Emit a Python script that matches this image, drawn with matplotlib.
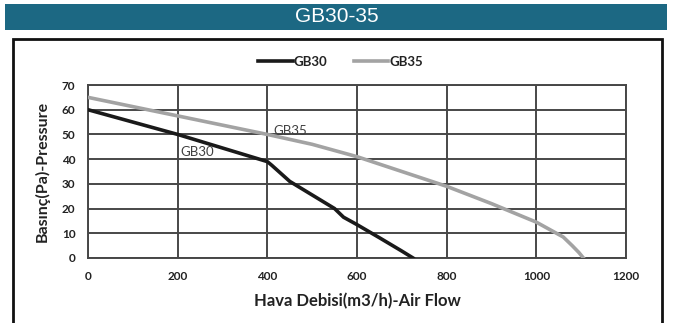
import matplotlib.pyplot as plt
from matplotlib.patches import Rectangle

# Fan performance curves (air flow m3/h vs static pressure Pa)
gb30_flow = [0, 200, 400, 410, 450, 500, 550, 570, 600, 650, 700, 725]
gb30_pres = [60, 50, 39, 37.5, 31, 25.5, 20, 16.5, 13.5, 8.2, 2.8, 0]

gb35_flow = [0, 200, 400, 500, 600, 700, 800, 900, 1000, 1040, 1060, 1080, 1095, 1105]
gb35_pres = [65, 57.5, 50, 46, 41, 35, 29, 22, 14.5, 10.5, 8.5, 5, 2.2, 0]

x_ticks = [0, 200, 400, 600, 800, 1000, 1200]
y_ticks = [0, 10, 20, 30, 40, 50, 60, 70]

title = "GB30-35"
x_label = "Hava Debisi(m3/h)-Air Flow"
y_label = "Basınç(Pa)-Pressure"

fig = plt.figure(figsize=(6.76, 3.23), dpi=100)

# header bar and outer frame, kept behind the axes
fig.patches.append(Rectangle((5 / 676, 1 - 30 / 323), 662 / 676, 26 / 323,
                             transform=fig.transFigure, facecolor="#1c6883",
                             edgecolor="none", zorder=-2))
fig.text(337 / 676, 1 - 17 / 323, title, color="white", fontsize=15,
         family="Liberation Sans", ha="center", va="center")
fig.patches.append(Rectangle((13 / 676, -0.05), 649 / 676, 1.05 - 39 / 323,
                             transform=fig.transFigure, facecolor="white",
                             edgecolor="#111111", linewidth=2, zorder=-2))

ax = fig.add_axes([88 / 676, 1 - 258 / 323, 538 / 676, 173 / 323])
ax.patch.set_alpha(0)
ax.plot(gb30_flow, gb30_pres, color="#1a1a1a", lw=2.6, label="GB30", zorder=3)
ax.plot(gb35_flow, gb35_pres, color="#a3a3a3", lw=2.6, label="GB35", zorder=3)

ax.set_xlim(0, 1200)
ax.set_ylim(0, 70)
ax.set_xticks(x_ticks)
ax.set_yticks(y_ticks)
ax.grid(True, color="#474747", lw=1.4)
ax.set_axisbelow(True)
for s in ax.spines.values():
    s.set_color("#474747")
    s.set_linewidth(1.4)
ax.tick_params(length=0, pad=9, labelsize=8.5, labelcolor="#222222")
for lab in ax.get_xticklabels() + ax.get_yticklabels():
    lab.set_family("Lato")
    lab.set_fontweight("bold")

ax.set_xlabel(x_label, family="Lato", fontweight="bold", fontsize=12,
              color="#222222", labelpad=8)
ax.set_ylabel(y_label, family="Lato", fontweight="bold", fontsize=11.5,
              color="#222222", labelpad=9)

ax.text(414, 51.5, "GB35", fontsize=9.5, family="Lato", color="#404040",
        va="center")
ax.text(206, 42.7, "GB30", fontsize=9.5, family="Lato", color="#404040",
        va="center")

leg = ax.legend(loc="center", bbox_to_anchor=(0.47, 1.135), ncol=2,
                frameon=False, handlelength=2.6, handletextpad=0.1,
                columnspacing=2.0, prop={"family": "Lato", "weight": "bold",
                                         "size": 9.5})
for t in leg.get_texts():
    t.set_color("#222222")

fig.savefig("out.png", dpi=100)
